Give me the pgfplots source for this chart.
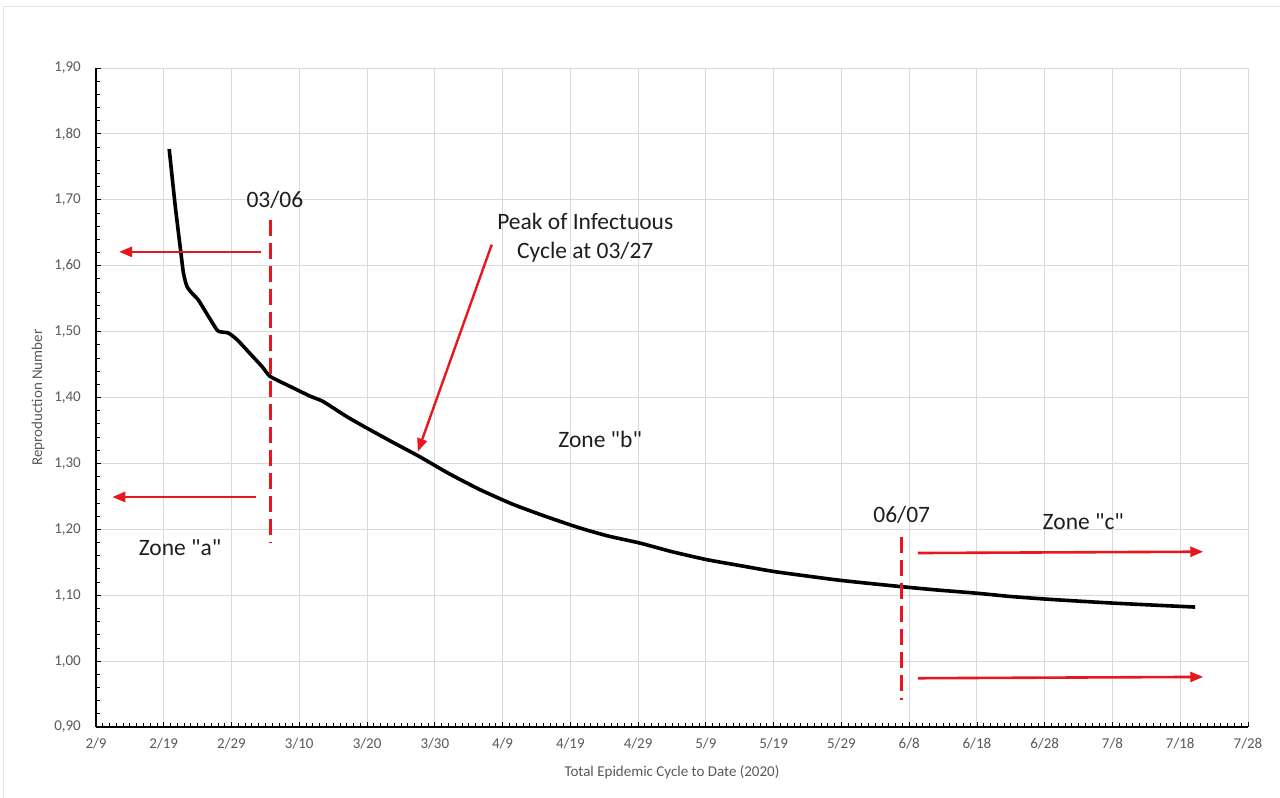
\documentclass[border=0pt]{standalone}
\usepackage{fontspec}
\setmainfont{Carlito}[Ligatures=TeXOff]
\usepackage{pgfplots}
\pgfplotsset{compat=1.18}
\usetikzlibrary{arrows.meta}

\definecolor{ann}{RGB}{232,22,30}
\definecolor{tickgray}{RGB}{89,89,89}
\definecolor{gridgray}{RGB}{217,217,217}
\definecolor{txt}{RGB}{30,30,30}

\begin{document}
\begin{tikzpicture}
\path[use as bounding box] (0,0) rectangle (1280bp,798bp);
\draw[gray!22, line width=1bp] (3bp,0) -- (3bp,791bp) -- (1280bp,791bp);
\begin{axis}[
  at={(96bp,71bp)}, anchor=south west,
  scale only axis, width=1152bp, height=659bp,
  xmin=0, xmax=170, ymin=0.9, ymax=1.9,
  axis lines*=left,
  axis line style={black, line width=1.2bp},
  xtick={0,10,...,170},
  xticklabels={2/9,2/19,2/29,3/10,3/20,3/30,4/9,4/19,4/29,5/9,5/19,5/29,6/8,6/18,6/28,7/8,7/18,7/28},
  minor x tick num=9,
  ytick={0.9,1.0,1.1,1.2,1.3,1.4,1.5,1.6,1.7,1.8,1.9},
  minor y tick num=4,
  /pgf/number format/fixed,
  /pgf/number format/fixed zerofill,
  /pgf/number format/precision=2,
  /pgf/number format/use comma,
  /pgf/number format/assume math mode=true,
  grid=major,
  major grid style={gridgray, line width=0.9bp},
  tick align=inside,
  tick style={black, line width=0.8bp},
  major tick length=5bp, minor tick length=4bp,
  ticklabel style={tickgray, font=\fontsize{15bp}{17bp}\selectfont, inner sep=0pt},
  yticklabel style={anchor=east, xshift=-15bp},
  xticklabel style={anchor=north, yshift=-11bp},
  xlabel={Total Epidemic Cycle to Date (2020)},
  ylabel={Reproduction Number},
  label style={tickgray, font=\fontsize{15bp}{17bp}\selectfont},
  xlabel style={at={(axis description cs:0.5,-0.068)}, anchor=center},
  ylabel style={at={(axis description cs:-0.0503,0.5)}, anchor=center},
]
\addplot[black, line width=3.6bp, smooth, tension=0.35] coordinates {
(10.8,1.777) (11.7,1.690) (12.5,1.622) (12.9,1.589) (13.4,1.569)
(14.1,1.559) (15.1,1.548) (16.6,1.523) (18.0,1.501) (19.5,1.498)
(20.8,1.488) (22.7,1.467) (24.5,1.447) (25.7,1.432) (28.6,1.417)
(31.6,1.402) (33.5,1.394) (37.0,1.371) (39.9,1.354) (43.8,1.332)
(47.8,1.310) (52.0,1.285) (56.7,1.260) (61.5,1.238) (66.5,1.219)
(71.4,1.202) (75.5,1.190) (80.3,1.179) (85.0,1.166) (90.1,1.154)
(95.0,1.145) (100.0,1.136) (105.0,1.129) (110.3,1.122) (118.8,1.113)
(124.0,1.108) (130.0,1.103) (135.0,1.098) (140.3,1.094) (145.0,1.091)
(150.1,1.088) (156.0,1.085) (162.2,1.082)
};
% annotations
\draw[ann, line width=3bp, dash pattern=on 16bp off 7bp] (25.8,1.670) -- (25.8,1.180);
\draw[ann, line width=3bp, dash pattern=on 16bp off 7bp] (118.9,1.189) -- (118.9,0.941);
\draw[ann, line width=2.6bp, -{Triangle[length=13bp,width=10bp]}] (24.4,1.621) -- (3.4,1.621);
\draw[ann, line width=2.6bp, -{Triangle[length=13bp,width=10bp]}] (23.6,1.249) -- (2.4,1.249);
\draw[ann, line width=2.6bp, -{Triangle[length=13bp,width=10bp]}] (121.3,1.164) -- (163.4,1.166);
\draw[ann, line width=2.6bp, -{Triangle[length=13bp,width=10bp]}] (121.3,0.974) -- (163.4,0.976);
\draw[ann, line width=2.4bp, -{Triangle[length=13bp,width=10bp]}] (58.4,1.632) -- (47.5,1.318);
\begin{scope}[every node/.style={txt, font=\fontsize{23.5bp}{29bp}\selectfont, inner sep=0pt}]
\node at (26.4,1.700) {03/06};
\node[align=center] at (72.2,1.643) {Peak of Infectuous\\Cycle at 03/27};
\node at (74.4,1.336) {Zone "b"};
\node at (12.4,1.172) {Zone "a"};
\node at (145.7,1.211) {Zone "c"};
\node at (118.9,1.222) {06/07};
\end{scope}
\end{axis}
\end{tikzpicture}
\end{document}
